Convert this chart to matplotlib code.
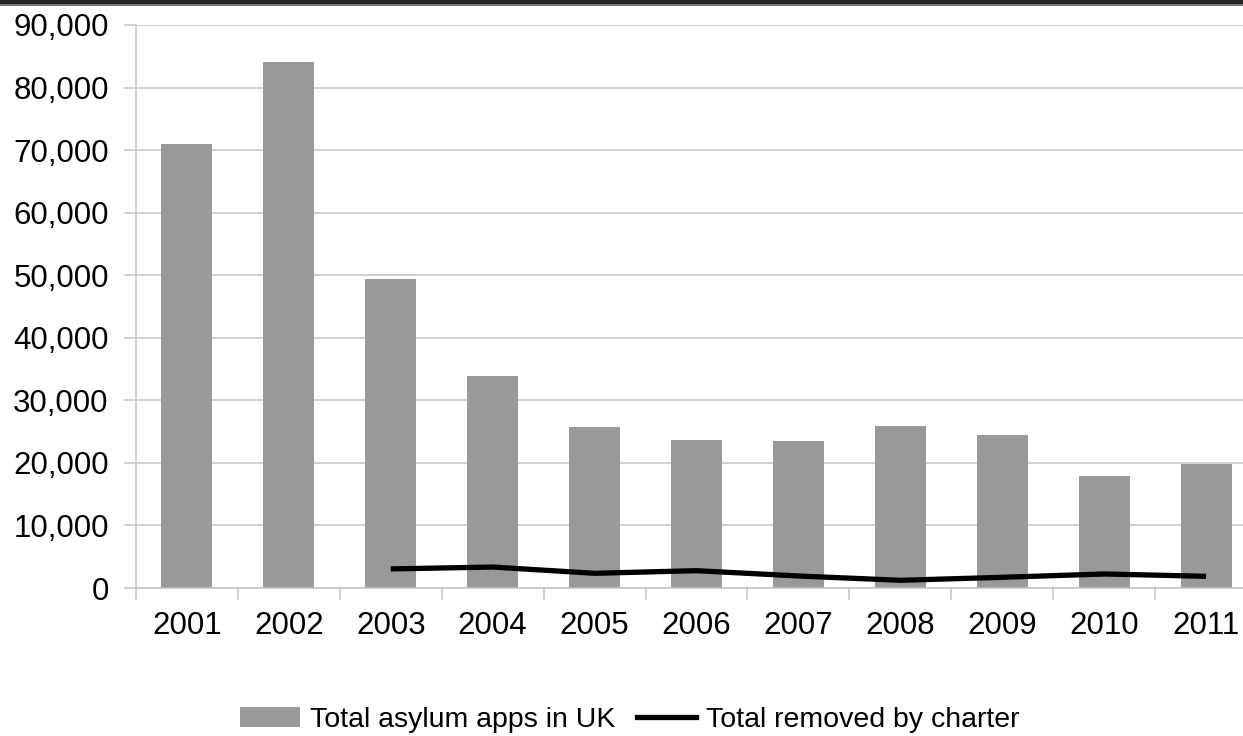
import matplotlib
matplotlib.use("Agg")
import matplotlib.pyplot as plt
from matplotlib.patches import Rectangle
from matplotlib.lines import Line2D

years = ["2001", "2002", "2003", "2004", "2005", "2006",
         "2007", "2008", "2009", "2010", "2011"]
asylum_apps = [71027, 84132, 49407, 33960, 25712, 23608,
               23431, 25932, 24487, 17916, 19865]
# removals by charter flight start in 2003
charter_years = ["2003", "2004", "2005", "2006", "2007",
                 "2008", "2009", "2010", "2011"]
charter_removed = [3050, 3350, 2350, 2770, 1920, 1230, 1710, 2240, 1870]
y_ticks = [0, 10000, 20000, 30000, 40000, 50000, 60000, 70000, 80000, 90000]

plt.rcParams["font.family"] = ["Liberation Sans", "DejaVu Sans"]

W, H, DPI = 1243, 736, 100
fig = plt.figure(figsize=(W / DPI, H / DPI), dpi=DPI)
fig.patch.set_facecolor("white")

# dark strip across the top edge
fig.add_artist(Rectangle((0, 1 - 6 / H), 1, 6 / H, transform=fig.transFigure,
                         facecolor="#777777", edgecolor="none"))
fig.add_artist(Rectangle((0, 1 - 4 / H), 1, 4 / H, transform=fig.transFigure,
                         facecolor="#262626", edgecolor="none"))

left_px, right_px, top_px, bottom_px = 136, 1257, 25, 588
ax = fig.add_axes([left_px / W, 1 - bottom_px / H,
                   (right_px - left_px) / W, (bottom_px - top_px) / H])

x = list(range(len(years)))
ax.bar(x, asylum_apps, width=0.5, color="#999999",
       label="Total asylum apps in UK", zorder=2)
cx = [years.index(y) for y in charter_years]
ax.plot(cx, charter_removed, color="black", lw=3.8,
        solid_capstyle="butt", solid_joinstyle="miter",
        label="Total removed by charter", zorder=3)

ax.set_xlim(-0.5, len(years) - 0.5)
ax.set_ylim(0, 90000)

grid_c = "#c4c4c4"
ax.set_yticks(y_ticks)
ax.set_yticklabels([f"{v:,}" for v in y_ticks])
ax.yaxis.grid(True, color=grid_c, lw=1.1, zorder=0)
ax.set_axisbelow(True)

# tick marks at category boundaries, labels at category centres
ax.set_xticks([i - 0.5 for i in range(len(years) + 1)])
ax.set_xticklabels([])
ax.set_xticks(x, minor=True)
ax.set_xticklabels(years, minor=True)
ax.tick_params(axis="x", which="major", length=8.6, width=1.1,
               color=grid_c, direction="out")
ax.tick_params(axis="x", which="minor", length=0, pad=16.5, labelsize=22.5)
ax.tick_params(axis="y", length=8.6, width=1.1, color=grid_c,
               direction="out", pad=11, labelsize=22.5)

for s in ["top", "right"]:
    ax.spines[s].set_visible(False)
for s in ["left", "bottom"]:
    ax.spines[s].set_color(grid_c)
    ax.spines[s].set_linewidth(1.1)

handles = [Rectangle((0, 0), 1, 1, facecolor="#999999", edgecolor="none"),
           Line2D([], [], color="black", lw=3.8)]
fig.legend(handles, ["Total asylum apps in UK", "Total removed by charter"],
           loc="center", bbox_to_anchor=(630 / W, 1 - 720 / H),
           ncol=2, frameon=False, prop={"size": 20.5},
           handlelength=2.1, handleheight=0.67, handletextpad=0.35,
           columnspacing=0.75, borderpad=0)

fig.savefig("out.png", dpi=DPI, facecolor="white")
